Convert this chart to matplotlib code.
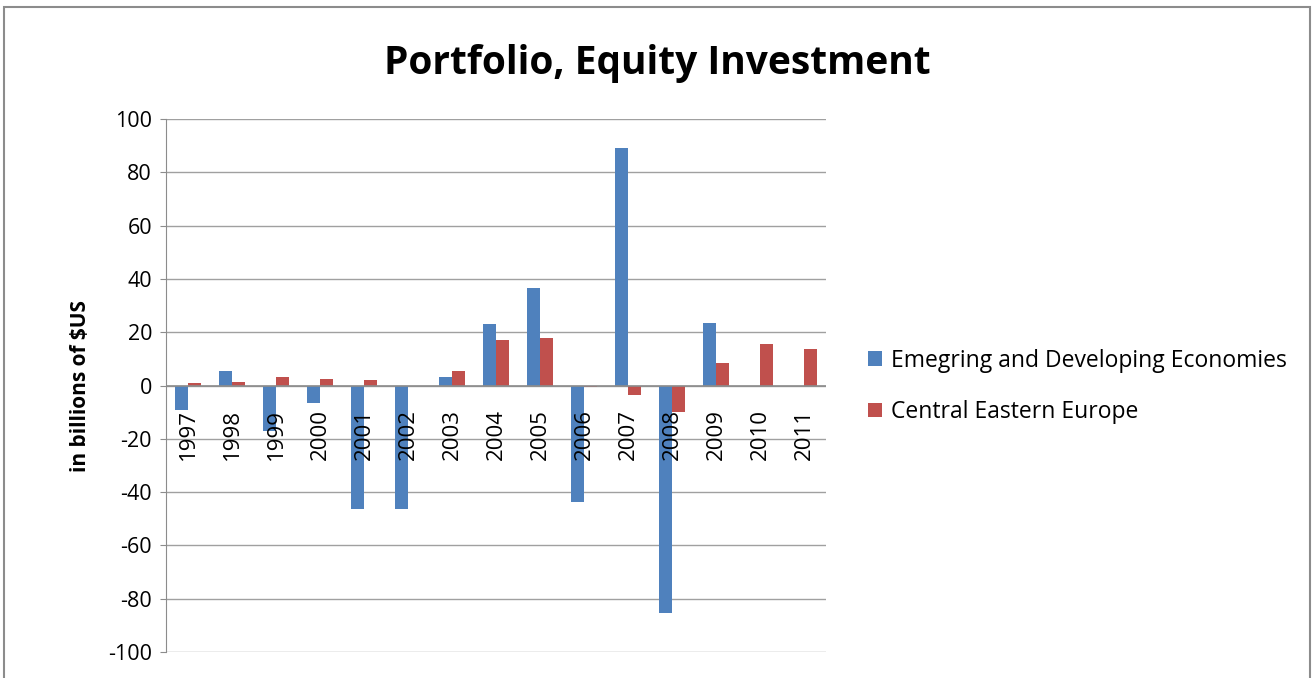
import numpy as np
import matplotlib.pyplot as plt
from matplotlib.patches import Rectangle

years = ["1997", "1998", "1999", "2000", "2001", "2002", "2003", "2004",
         "2005", "2006", "2007", "2008", "2009", "2010", "2011"]
emerging = [-9.1, 5.5, -17.1, -6.4, -46.5, -46.2, 3.1, 22.9,
            36.4, -43.6, 89.2, -85.4, 23.4, 0.0, 0.0]
cee = [0.8, 1.3, 3.1, 2.6, 2.1, 0.0, 5.5, 17.1,
       18.0, -0.6, -3.6, -9.9, 8.4, 15.7, 13.8]

plt.rcParams['font.family'] = ['Open Sans', 'DejaVu Sans']
plt.rcParams['axes.unicode_minus'] = False

fig = plt.figure(figsize=(13.14, 6.78), dpi=100)
fig.patches.append(Rectangle((0.003, -0.01), 0.994, 1.0, transform=fig.transFigure,
                             fill=False, edgecolor="#8c8c8c", linewidth=1.5))
ax = fig.add_axes([0.1263, 0.0383, 0.5023, 0.7862])

x = np.arange(len(years))
w = 0.29
ax.bar(x - w / 2, emerging, w, color="#4F81BD", label="Emegring and Developing Economies")
ax.bar(x + w / 2, cee, w, color="#C0504D", label="Central Eastern Europe")

ax.set_xlim(-0.5, len(years) - 0.5)
ax.set_ylim(-100, 100)
ax.set_yticks(range(-100, 101, 20))
ax.tick_params(axis="y", labelsize=15.5, length=4, color="#8c8c8c", pad=6)
ax.yaxis.grid(True, color="#a0a0a0", linewidth=1)
ax.set_axisbelow(True)
for s in ["top", "right", "bottom"]:
    ax.spines[s].set_visible(False)
ax.spines["left"].set_color("#8c8c8c")
ax.axhline(0, color="#8c8c8c", linewidth=1.2, zorder=1)

ax.set_xticks([])
for i, y in enumerate(years):
    ax.text(i, -9, y, rotation=90, ha="center", va="top", fontsize=16)

ax.set_ylabel("in billions of $US", fontsize=15, fontweight="bold", labelpad=12)
fig.suptitle("Portfolio, Equity Investment", fontsize=28, fontweight="bold", y=0.935)

fig.legend(loc="center left", bbox_to_anchor=(0.645, 0.43), frameon=False,
           fontsize=16.5, handlelength=0.6, handleheight=0.6, handletextpad=0.4,
           labelspacing=1.2)

fig.savefig("out.png", dpi=100)
